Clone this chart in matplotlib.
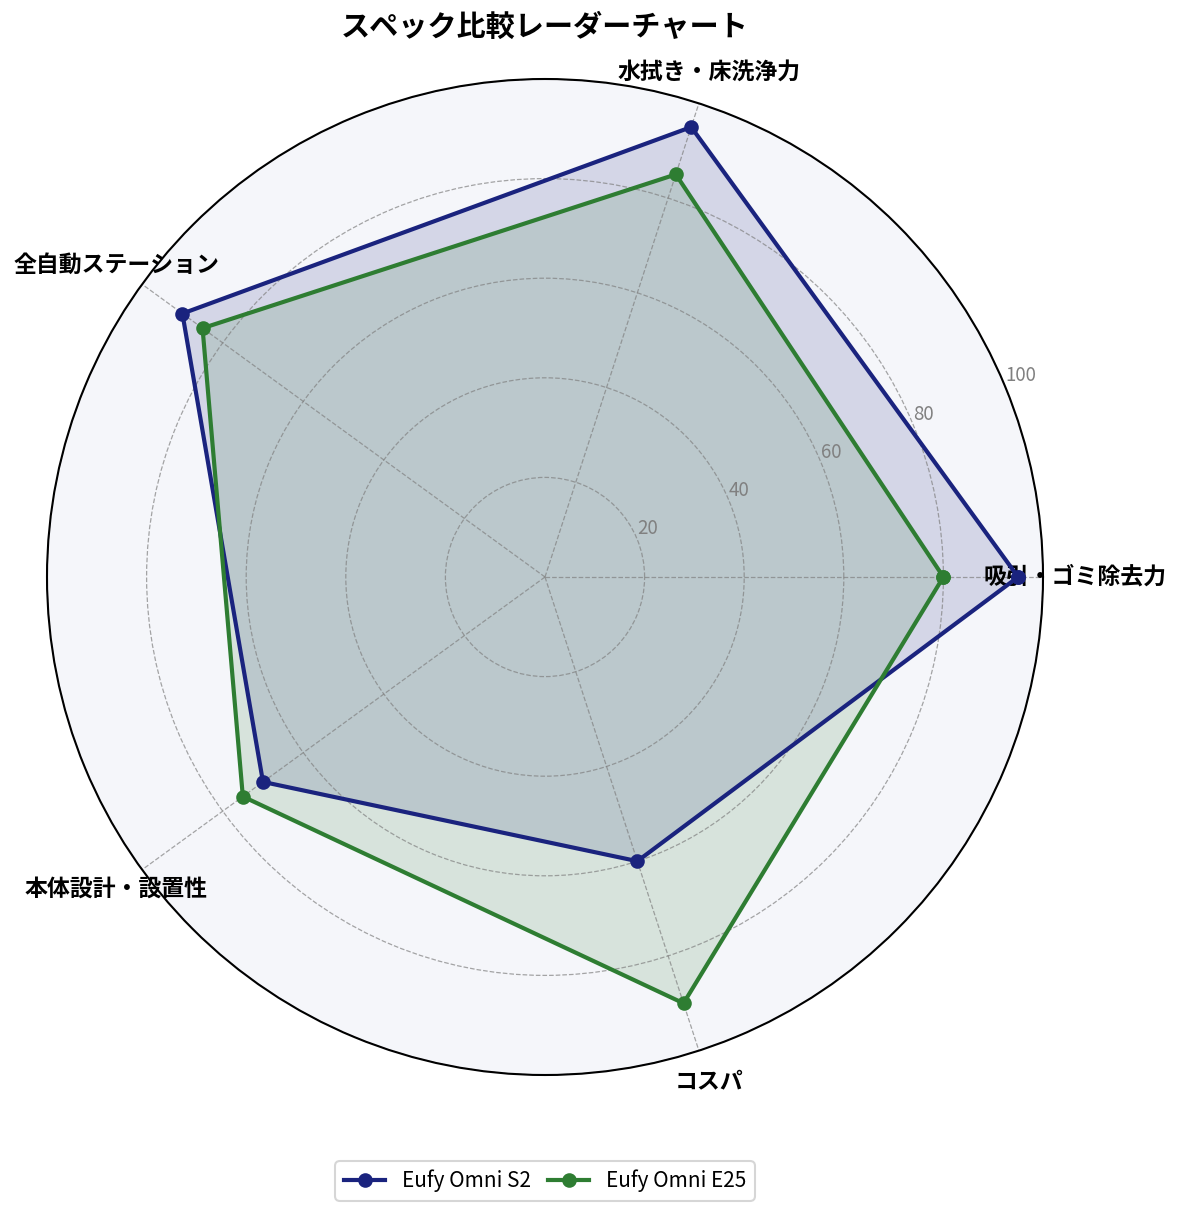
import numpy as np
import matplotlib
matplotlib.use('Agg')
from matplotlib import pyplot as plt

plt.rcParams['font.family'] = ['Noto Sans CJK JP', 'DejaVu Sans']

categories = ['吸引・ゴミ除去力', '水拭き・床洗浄力', '全自動ステーション', '本体設計・設置性', 'コスパ']
s2_scores = [95, 95, 90, 70, 60]
e25_scores = [80, 85, 85, 75, 90]
series_names = ['Eufy Omni S2', 'Eufy Omni E25']
series_colors = ['#1a237e', '#2e7d32']
r_ticks = [20, 40, 60, 80, 100]

n = len(categories)
angles = np.linspace(0, 2 * np.pi, n, endpoint=False).tolist()
angles_closed = angles + angles[:1]

fig = plt.figure(figsize=(1178 / 150, 1214 / 150), dpi=150)
ax = fig.add_axes([47 / 1178, 139 / 1214, 996 / 1178, 996 / 1214], polar=True)
ax.set_facecolor('#f5f6fa')

for scores, name, color in zip([s2_scores, e25_scores], series_names, series_colors):
    vals = scores + scores[:1]
    ax.plot(angles_closed, vals, color=color, linewidth=2, marker='o',
            markersize=6, label=name)
    ax.fill(angles_closed, vals, color=color, alpha=0.15)

ax.set_ylim(0, 100)
ax.set_yticks(r_ticks)
ax.set_yticklabels([str(t) for t in r_ticks], color='gray', fontsize=9)
ax.set_rlabel_position(22.5)
ax.set_xticks(angles)
ax.set_xticklabels(categories, fontsize=11, fontweight='bold')
ax.tick_params(axis='x', pad=5)
ax.grid(color='gray', linestyle='--', linewidth=0.6, alpha=0.7)
ax.spines['polar'].set_color('black')
ax.spines['polar'].set_linewidth(1)

# title and legend sit over the centre of the radar, not the figure
cx = 545 / 1178
fig.text(cx, 1 - 27 / 1214, 'スペック比較レーダーチャート', ha='center', va='center',
         fontsize=14, fontweight='bold')
fig.legend(loc='center', bbox_to_anchor=(cx, 1 - 1181 / 1214), ncol=2, fontsize=10,
           columnspacing=0.8)

fig.savefig('out.png', dpi=150)
